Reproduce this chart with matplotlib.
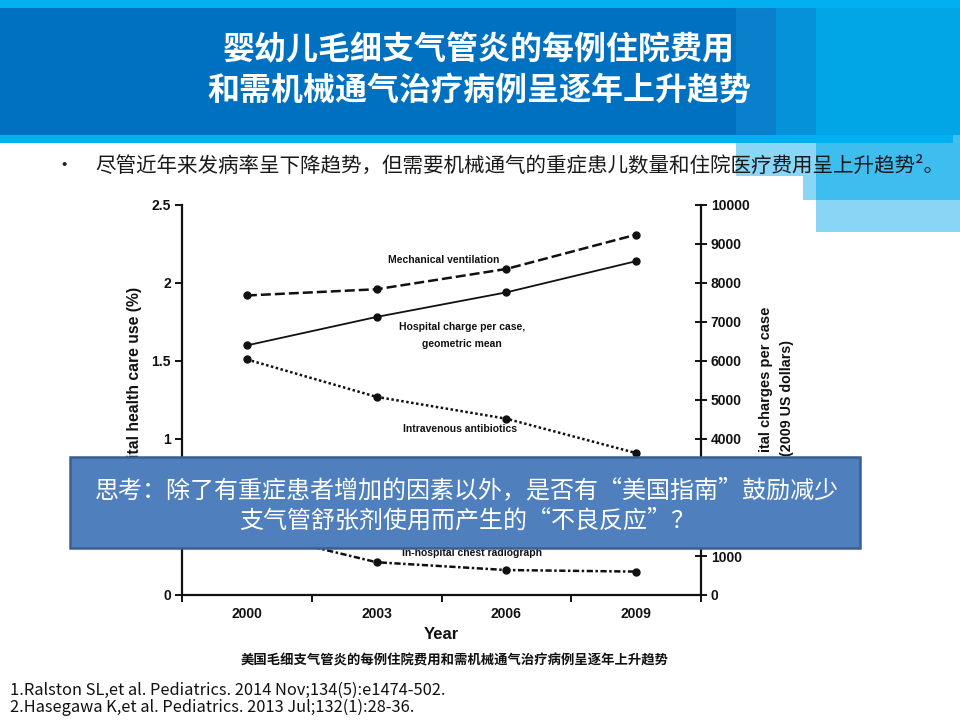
import matplotlib as mpl
mpl.use('Agg')
import matplotlib.pyplot as plt
from matplotlib.patches import Rectangle

plt.rcParams['font.family'] = ['Noto Sans CJK SC', 'DejaVu Sans']

# data
years = [2000, 2003, 2006, 2009]
mech_vent = [1.92, 1.96, 2.09, 2.31]        # % (left axis)
iv_antibiotics = [1.51, 1.27, 1.13, 0.91]   # % (left axis)
chest_xray = [0.41, 0.21, 0.16, 0.15]       # % (left axis)
charge_per_case = [6400, 7130, 7760, 8560]  # 2009 US dollars (right axis)

# labels that sit under the text box are not visible in the picture
left_ticks = [0, 0.5, 1, 1.5, 2, 2.5]
left_labels = ['0', '', '1', '1.5', '2', '2.5']
right_ticks = [0, 1000, 2000, 3000, 4000, 5000, 6000, 7000, 8000, 9000, 10000]
right_labels = ['0', '1000', '', '', '4000', '5000', '6000', '7000', '8000', '9000', '10000']

title_lines = ['婴幼儿毛细支气管炎的每例住院费用', '和需机械通气治疗病例呈逐年上升趋势']
bullet = '尽管近年来发病率呈下降趋势，但需要机械通气的重症患儿数量和住院医疗费用呈上升趋势²。'
box_lines = ['思考：除了有重症患者增加的因素以外，是否有“美国指南”鼓励减少',
             '支气管舒张剂使用而产生的“不良反应”？']
caption = '美国毛细支气管炎的每例住院费用和需机械通气治疗病例呈逐年上升趋势'
refs = ['1.Ralston SL,et al. Pediatrics. 2014 Nov;134(5):e1474-502.',
        '2.Hasegawa K,et al. Pediatrics. 2013 Jul;132(1):28-36.']
# visible (cropped) parts of the pasted chart's axis titles
ylabel_left = 'ital health care use (%)'
ylabel_right = ['ital charges per case', '(2009 US dollars)']

W, H = 960, 720
fig = plt.figure(figsize=(9.6, 7.2), dpi=100)

# background / slide layer in pixel coords
bg = fig.add_axes([0, 0, 1, 1], zorder=0)
bg.set_xlim(0, W)
bg.set_ylim(H, 0)
bg.axis('off')

def rect(ax, x0, y0, x1, y1, color, **kw):
    ax.add_patch(Rectangle((x0, y0), x1 - x0, y1 - y0, facecolor=color,
                           edgecolor='none', **kw))

rect(bg, 0, 0, 960, 8, '#00b0f0')
rect(bg, 0, 8, 736, 135, '#0070c0')
rect(bg, 736, 8, 776, 135, '#0a80cc')
rect(bg, 776, 8, 816, 135, '#0592d8')
rect(bg, 816, 8, 960, 135, '#00a6e6')
rect(bg, 0, 135, 953, 143, '#00b0f0')
rect(bg, 953, 135, 960, 143, '#40c0f0')
rect(bg, 736, 143, 816, 176, '#8ad6f6')
rect(bg, 816, 143, 960, 176, '#3ebdef')
rect(bg, 803, 176, 816, 200, '#8ad6f6')
rect(bg, 816, 176, 960, 200, '#3ebdef')
rect(bg, 816, 200, 960, 232, '#88d5f6')

bg.text(479, 50, title_lines[0], color='white', fontsize=23, fontweight='bold',
        ha='center', va='center')
bg.text(479, 91, title_lines[1], color='white', fontsize=23, fontweight='bold',
        ha='center', va='center')

bg.text(64, 166, '•', fontsize=14, color='#222222', ha='center', va='center')
bg.text(95, 166, bullet, fontsize=14.8, color='#1a1a1a', ha='left', va='center')

bg.text(455, 660, caption, fontsize=9.6, fontweight='bold', color='#111111',
        ha='center', va='center')
bg.text(10, 690, refs[0], fontsize=11.8, color='#111111', ha='left', va='center')
bg.text(10, 707, refs[1], fontsize=11.8, color='#111111', ha='left', va='center')

arial = ['Liberation Sans', 'DejaVu Sans']
bg.text(134, 287, ylabel_left, rotation=90, fontsize=11.3, fontweight='bold',
        family=arial, color='#111111', ha='center', va='top')
bg.text(766, 307, ylabel_right[0], rotation=90, fontsize=10.5, fontweight='bold',
        family=arial, color='#111111', ha='center', va='top')
bg.text(787, 340, ylabel_right[1], rotation=90, fontsize=10.3, fontweight='bold',
        family=arial, color='#111111', ha='center', va='top')

# chart
x0, x1, y0, y1 = 182, 701, 205, 595
ax = fig.add_axes([x0 / W, 1 - y1 / H, (x1 - x0) / W, (y1 - y0) / H], zorder=1)
ax.patch.set_alpha(0)
ax2 = ax.twinx()

ink = '#111111'
ax.plot(years, mech_vent, color=ink, lw=1.8, ls=(0, (4, 1.6)), marker='o', ms=5)
ax.plot(years, iv_antibiotics, color=ink, lw=1.8, ls=(0, (1, 1)), marker='o', ms=5)
ax.plot(years, chest_xray, color=ink, lw=1.8, ls=(0, (2.5, 1, 1, 1)), marker='o', ms=5)
ax2.plot(years, charge_per_case, color=ink, lw=1.3, ls='-', marker='o', ms=5)

ax.set_xlim(1998.5, 2010.5)
ax.set_ylim(0, 2.5)
ax2.set_ylim(0, 10000)

lab = dict(fontsize=7.5, fontweight='bold', family=arial, color=ink, ha='center', va='center')
ax.text(2004.55, 2.15, 'Mechanical ventilation', **lab)
ax.text(2004.97, 1.72, 'Hospital charge per case,', **lab)
ax.text(2004.97, 1.61, 'geometric mean', **lab)
ax.text(2004.93, 1.067, 'Intravenous antibiotics', **lab)
ax.text(2005.2, 0.27, 'In-hospital chest radiograph', **lab)

for a in (ax, ax2):
    a.spines['top'].set_visible(False)
    for s in ('left', 'right', 'bottom'):
        a.spines[s].set_linewidth(1.6)
        a.spines[s].set_color(ink)
ax.spines['right'].set_visible(False)
ax2.spines['left'].set_visible(False)
ax2.spines['bottom'].set_visible(False)

ax.set_yticks(left_ticks)
ax.set_yticklabels(left_labels)
ax.tick_params(axis='y', direction='out', length=5, width=1.4, color=ink, pad=3)
ax2.set_yticks(right_ticks)
ax2.set_yticklabels(right_labels)
ax2.tick_params(axis='y', direction='inout', length=8, width=1.4, color=ink, pad=3)

ax.set_xticks([1998.5, 2001.5, 2004.5, 2007.5, 2010.5])
ax.set_xticklabels([])
ax.set_xticks(years, minor=True)
ax.set_xticklabels([str(y) for y in years], minor=True)
ax.tick_params(axis='x', which='major', direction='out', length=5, width=1.4, color=ink)
ax.tick_params(axis='x', which='minor', length=0, pad=9)

for t in ax.get_yticklabels() + ax2.get_yticklabels() + ax.get_xticklabels(minor=True):
    t.set_family(arial)
    t.set_fontweight('bold')
    t.set_fontsize(10)
    t.set_color(ink)

ax.set_xlabel('Year', family=arial, fontweight='bold', fontsize=12, color=ink, labelpad=4)

# overlay text box
ov = fig.add_axes([0, 0, 1, 1], zorder=5)
ov.set_xlim(0, W)
ov.set_ylim(H, 0)
ov.axis('off')
ov.add_patch(Rectangle((70, 457), 790, 91, facecolor='#4f80bd',
                       edgecolor='#3a5f8e', linewidth=1.8))
ov.text(467, 490, box_lines[0], color='white', fontsize=17.3, ha='center', va='center')
ov.text(467, 521, box_lines[1], color='white', fontsize=17.3, ha='center', va='center')

fig.savefig('out.png', dpi=100)
